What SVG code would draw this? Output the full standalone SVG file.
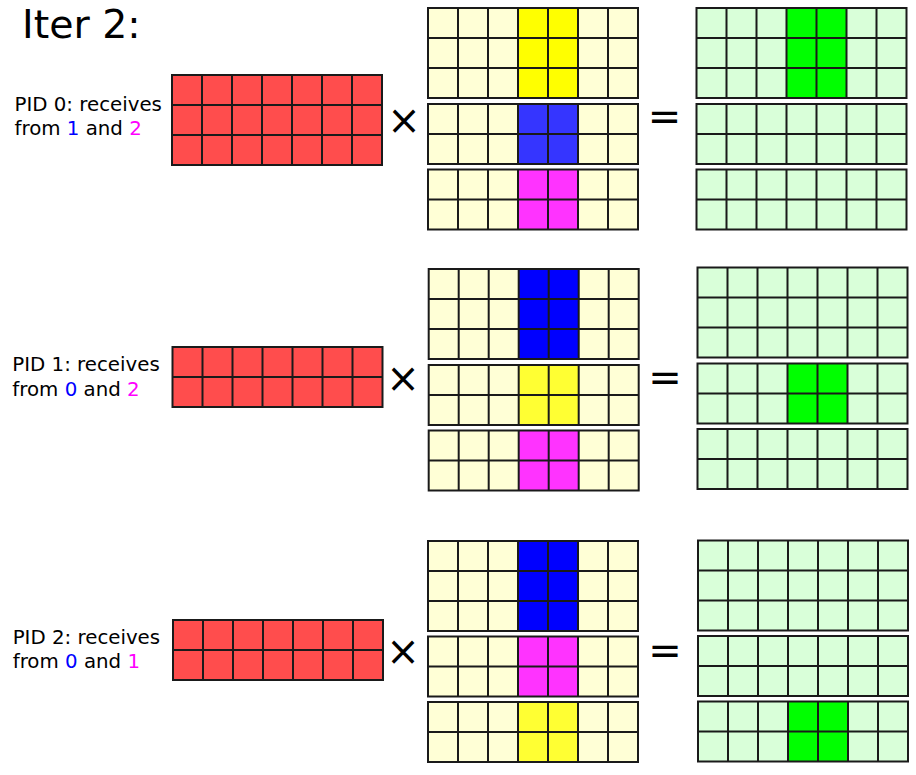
<svg xmlns="http://www.w3.org/2000/svg" xmlns:xlink="http://www.w3.org/1999/xlink" width="916" height="775" viewBox="0 0 916 775">
<style>
.t{font-family:"DejaVu Sans","Liberation Sans",sans-serif;fill:#000}
.lbl{font-size:19.8px}
.op{font-size:40px}
.grid{fill:none;stroke:#1a1a1a;stroke-width:2}
.red{fill:#ff4d4d}
.ly{fill:#ffffd6}
.lg{fill:#d9ffd9}
.yel{fill:#ffff00}
.yel2{fill:#ffff33}
.blu1{fill:#3535ff}
.blu2{fill:#0000ff}
.mag{fill:#ff33ff}
.grn{fill:#00ff00}
.cb{fill:#0000ff}
.cm{fill:#ff00ff}
</style>
<defs>
<path id="g3" class="grid" d="M0,0H210V90H0Z M30,0V90 M60,0V90 M90,0V90 M120,0V90 M150,0V90 M180,0V90 M0,30H210 M0,60H210"/>
<path id="g2" class="grid" d="M0,0H210V60H0Z M30,0V60 M60,0V60 M90,0V60 M120,0V60 M150,0V60 M180,0V60 M0,30H210"/>
</defs>
<rect width="916" height="775" fill="#fff"/>
<text class="t" x="22" y="37.5" font-size="39.5">Iter 2:</text>

<!-- Section PID 0 -->
<g id="label0"><text class="t lbl" x="14.5" y="110.5">PID 0: receives</text><text class="t lbl" x="14.5" y="135">from <tspan class="cb">1</tspan> and <tspan class="cm">2</tspan></text></g>
<g id="A0" transform="translate(172,75)"><rect class="red" width="210" height="90"/><use xlink:href="#g3"/></g>
<g id="times0"><text class="t op" x="404" y="134" text-anchor="middle">×</text></g>
<g id="B0a" transform="translate(428,8)"><rect class="ly" width="210" height="90"/><rect class="yel" x="90" width="60" height="90"/><use xlink:href="#g3"/></g>
<g id="B0b" transform="translate(428,104)"><rect class="ly" width="210" height="60"/><rect class="blu1" x="90" width="60" height="60"/><use xlink:href="#g2"/></g>
<g id="B0c" transform="translate(428,169.5)"><rect class="ly" width="210" height="60"/><rect class="mag" x="90" width="60" height="60"/><use xlink:href="#g2"/></g>
<g id="eq0"><text class="t op" x="664.5" y="129.5" text-anchor="middle">=</text></g>
<g id="C0a" transform="translate(696.5,8)"><rect class="lg" width="210" height="90"/><rect class="grn" x="90" width="60" height="90"/><use xlink:href="#g3"/></g>
<g id="C0b" transform="translate(696.5,104)"><rect class="lg" width="210" height="60"/><use xlink:href="#g2"/></g>
<g id="C0c" transform="translate(696.5,169.5)"><rect class="lg" width="210" height="60"/><use xlink:href="#g2"/></g>

<!-- Section PID 1 -->
<g id="label1"><text class="t lbl" x="12.3" y="371">PID 1: receives</text><text class="t lbl" x="12.3" y="395.5">from <tspan class="cb">0</tspan> and <tspan class="cm">2</tspan></text></g>
<g id="A1" transform="translate(172.5,347)"><rect class="red" width="210" height="60"/><use xlink:href="#g2"/></g>
<g id="times1"><text class="t op" x="403" y="392" text-anchor="middle">×</text></g>
<g id="B1a" transform="translate(428.7,269)"><rect class="ly" width="210" height="90"/><rect class="blu2" x="90" width="60" height="90"/><use xlink:href="#g3"/></g>
<g id="B1b" transform="translate(428.7,365)"><rect class="ly" width="210" height="60"/><rect class="yel2" x="90" width="60" height="60"/><use xlink:href="#g2"/></g>
<g id="B1c" transform="translate(428.7,430.5)"><rect class="ly" width="210" height="60"/><rect class="mag" x="90" width="60" height="60"/><use xlink:href="#g2"/></g>
<g id="eq1"><text class="t op" x="665" y="390.5" text-anchor="middle">=</text></g>
<g id="C1a" transform="translate(697.5,267.5)"><rect class="lg" width="210" height="90"/><use xlink:href="#g3"/></g>
<g id="C1b" transform="translate(697.5,363.5)"><rect class="lg" width="210" height="60"/><rect class="grn" x="90" width="60" height="60"/><use xlink:href="#g2"/></g>
<g id="C1c" transform="translate(697.5,429)"><rect class="lg" width="210" height="60"/><use xlink:href="#g2"/></g>

<!-- Section PID 2 -->
<g id="label2"><text class="t lbl" x="12.7" y="644.3">PID 2: receives</text><text class="t lbl" x="12.7" y="668.3">from <tspan class="cb">0</tspan> and <tspan class="cm">1</tspan></text></g>
<g id="A2" transform="translate(173,620)"><rect class="red" width="210" height="60"/><use xlink:href="#g2"/></g>
<g id="times2"><text class="t op" x="403" y="665" text-anchor="middle">×</text></g>
<g id="B2a" transform="translate(428,541)"><rect class="ly" width="210" height="90"/><rect class="blu2" x="90" width="60" height="90"/><use xlink:href="#g3"/></g>
<g id="B2b" transform="translate(428,636.5)"><rect class="ly" width="210" height="60"/><rect class="mag" x="90" width="60" height="60"/><use xlink:href="#g2"/></g>
<g id="B2c" transform="translate(428,702)"><rect class="ly" width="210" height="60"/><rect class="yel2" x="90" width="60" height="60"/><use xlink:href="#g2"/></g>
<g id="eq2"><text class="t op" x="665" y="663.5" text-anchor="middle">=</text></g>
<g id="C2a" transform="translate(698,540.5)"><rect class="lg" width="210" height="90"/><use xlink:href="#g3"/></g>
<g id="C2b" transform="translate(698,636)"><rect class="lg" width="210" height="60"/><use xlink:href="#g2"/></g>
<g id="C2c" transform="translate(698,701.5)"><rect class="lg" width="210" height="60"/><rect class="grn" x="90" width="60" height="60"/><use xlink:href="#g2"/></g>
<g id="connectors"/>
</svg>
